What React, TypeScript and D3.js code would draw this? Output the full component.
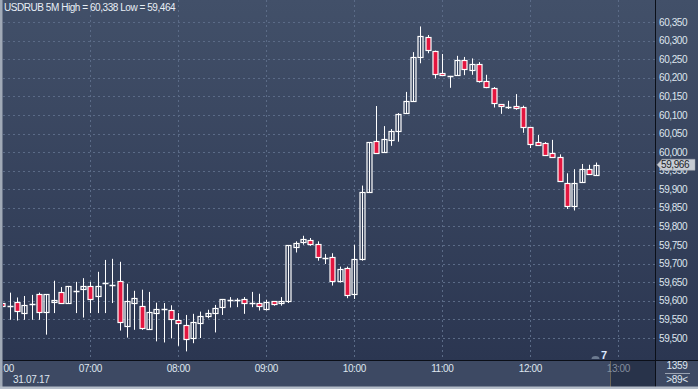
import React from 'react'
import * as d3 from 'd3'

// USDRUB 5M candles, 31.07.17 starting 06:00
const startTime = new Date(2017, 6, 31, 6, 0)
const opens = [
  59.595, 59.586, 59.597, 59.567, 59.592, 59.619, 59.569, 59.597, 59.623, 59.595,
  59.626, 59.633, 59.640, 59.612, 59.647, 59.642, 59.653, 59.534, 59.594, 59.586,
  59.525, 59.567, 59.577, 59.575, 59.549, 59.535, 59.499, 59.539, 59.558, 59.566,
  59.583, 59.601, 59.601, 59.605, 59.595, 59.594, 59.579, 59.599, 59.594, 59.599,
  59.744, 59.757, 59.763, 59.753, 59.716, 59.717, 59.654, 59.688, 59.618, 59.712,
  59.892, 60.029, 60.000, 60.032, 60.056, 60.105, 60.137, 60.255, 60.309, 60.273,
  60.213, 60.205, 60.207, 60.247, 60.219, 60.236, 60.191, 60.172, 60.129, 60.122,
  60.124, 60.121, 60.067, 60.027, 60.024, 59.997, 59.986, 59.918, 59.855, 59.919,
  59.954, 59.938,
]
const highs = [
  59.597, 59.622, 59.609, 59.613, 59.616, 59.622, 59.618, 59.654, 59.637, 59.640,
  59.651, 59.661, 59.651, 59.678, 59.710, 59.713, 59.705, 59.646, 59.627, 59.630,
  59.624, 59.595, 59.594, 59.588, 59.567, 59.562, 59.565, 59.571, 59.576, 59.589,
  59.605, 59.610, 59.607, 59.610, 59.624, 59.619, 59.603, 59.599, 59.610, 59.750,
  59.760, 59.775, 59.769, 59.760, 59.726, 59.728, 59.692, 59.692, 59.751, 59.910,
  60.027, 60.124, 60.070, 60.062, 60.105, 60.162, 60.269, 60.338, 60.315, 60.273,
  60.264, 60.205, 60.259, 60.256, 60.252, 60.242, 60.208, 60.175, 60.129, 60.138,
  60.156, 60.125, 60.067, 60.046, 60.027, 60.033, 59.994, 59.943, 59.954, 59.968,
  59.966, 59.972,
]
const lows = [
  59.585, 59.549, 59.547, 59.549, 59.549, 59.549, 59.509, 59.567, 59.594, 59.592,
  59.567, 59.555, 59.567, 59.567, 59.567, 59.594, 59.520, 59.501, 59.522, 59.522,
  59.522, 59.491, 59.488, 59.499, 59.479, 59.464, 59.486, 59.500, 59.553, 59.515,
  59.562, 59.582, 59.583, 59.565, 59.583, 59.574, 59.574, 59.587, 59.587, 59.594,
  59.730, 59.751, 59.748, 59.708, 59.699, 59.641, 59.649, 59.607, 59.605, 59.708,
  59.892, 59.997, 60.000, 60.017, 60.028, 60.105, 60.137, 60.239, 60.266, 60.198,
  60.207, 60.173, 60.207, 60.207, 60.208, 60.187, 60.172, 60.120, 60.103, 60.116,
  60.114, 60.052, 60.011, 60.019, 59.990, 59.986, 59.922, 59.847, 59.843, 59.919,
  59.941, 59.938,
]
const closes = [
  59.587, 59.586, 59.572, 59.589, 59.592, 59.571, 59.618, 59.603, 59.594, 59.640,
  59.626, 59.640, 59.606, 59.640, 59.647, 59.642, 59.543, 59.600, 59.607, 59.528,
  59.570, 59.578, 59.577, 59.550, 59.542, 59.497, 59.543, 59.559, 59.567, 59.580,
  59.605, 59.601, 59.601, 59.593, 59.595, 59.585, 59.597, 59.591, 59.600, 59.750,
  59.756, 59.766, 59.751, 59.717, 59.716, 59.653, 59.685, 59.615, 59.712, 59.892,
  60.027, 59.997, 60.035, 60.056, 60.102, 60.137, 60.255, 60.312, 60.273, 60.212,
  60.207, 60.205, 60.247, 60.223, 60.236, 60.190, 60.174, 60.131, 60.123, 60.122,
  60.119, 60.066, 60.021, 60.020, 59.993, 59.986, 59.922, 59.855, 59.918, 59.954,
  59.941, 59.966,
]
const priceTicks = [59.5, 59.55, 59.6, 59.65, 59.7, 59.75, 59.8, 59.85, 59.9, 59.95, 60.0, 60.05, 60.1, 60.15, 60.2, 60.25, 60.3, 60.35]
const hourTicks = [6, 7, 8, 9, 10, 11, 12, 13]
const dateLabel = '31.07.17'
const cornerTop = '1359'
const cornerBottom = '>89<'
const indicatorLabel = '7'

const W = 698
const H = 389
const plotLeft = 3
const plotRight = 655
const plotBottom = 360

const font = '"Liberation Sans", Arial, sans-serif'
const textColor = '#dfe6ef'
const red = '#e3163f'

const ru = d3.formatLocale({ decimal: ',', thousands: ' ', grouping: [3], currency: ['', ''] })
const fmt = ru.format('.3f')

const App = () => {
  const times = closes.map((_, i) => d3.timeMinute.offset(startTime, i * 5))

  const x = d3.scaleTime()
    .domain([startTime, d3.timeHour.offset(startTime, 7)])
    .range([2.3, 618.3])

  const y = d3.scaleLinear()
    .domain([59.5, 60.35])
    .range([338, 22])

  const last = closes[closes.length - 1]
  const lastY = y(last)
  const title = `USDRUB 5M High = ${fmt(d3.max(highs))} Low = ${fmt(d3.min(lows))}`

  const candles = times.map((t, i) => {
    const cx = Math.round(x(t)) + 0.5
    const o = opens[i]
    const c = closes[i]
    const up = c >= o
    const yTop = y(Math.max(o, c))
    const yBot = y(Math.min(o, c))
    const bh = yBot - yTop
    return (
      <g key={i}>
        <line x1={cx} x2={cx} y1={y(highs[i])} y2={y(lows[i])} stroke="#fff" strokeWidth={1} />
        {bh < 1.5 ? (
          <line x1={cx - 3} x2={cx + 3} y1={Math.round(yTop) + 0.5} y2={Math.round(yTop) + 0.5} stroke="#fff" strokeWidth={1.5} />
        ) : (
          <rect
            x={cx - 2.5}
            y={Math.round(yTop) + 0.5}
            width={5}
            height={Math.max(Math.round(bh), 2)}
            fill={up ? 'none' : red}
            stroke="#fff"
            strokeWidth={1.2}
          />
        )}
      </g>
    )
  })

  return (
    <svg width={W} height={H} style={{ position: 'absolute', left: 0, top: 0 }} fontFamily={font}>
      <defs>
        <linearGradient id="bg" x1="0" y1="0" x2="0" y2="1">
          <stop offset="0%" stopColor="#425069" />
          <stop offset="100%" stopColor="#2b3651" />
        </linearGradient>
        <clipPath id="plot">
          <rect x={plotLeft} y={0} width={plotRight - plotLeft} height={plotBottom} />
        </clipPath>
        <clipPath id="taxis">
          <rect x={plotLeft} y={plotBottom} width={plotRight - plotLeft} height={H - plotBottom} />
        </clipPath>
      </defs>

      <rect x={0} y={0} width={W} height={plotBottom + 1} fill="url(#bg)" />
      {/* time axis band */}
      <rect x={0} y={plotBottom + 1} width={W} height={H - plotBottom - 1} fill="#3d4963" />
      <rect x={611} y={plotBottom + 1} width={plotRight - 611} height={26} fill="#28334a" />
      <line x1={610.5} x2={610.5} y1={plotBottom + 1} y2={387} stroke="#6b6458" />

      {/* grid */}
      <g stroke="#5b6b87" strokeWidth={1} strokeDasharray="2,3" clipPath="url(#plot)">
        {priceTicks.map(p => (
          <line key={p} x1={plotLeft} x2={plotRight} y1={Math.round(y(p)) + 0.5} y2={Math.round(y(p)) + 0.5} />
        ))}
        {hourTicks.slice(1).map(h => {
          const gx = Math.round(x(d3.timeHour.offset(startTime, h - 6))) + 0.5
          return <line key={h} x1={gx} x2={gx} y1={0} y2={plotBottom} />
        })}
      </g>

      {/* title */}
      <text x={4} y={11} fontSize={10} letterSpacing={-0.45} fill="#e8eef5">{title}</text>

      <g clipPath="url(#plot)">{candles}</g>

      {/* indicator */}
      <path d="M591.5,359 A4,3 0 0 1 599.5,359 Z" fill="#6c7a90" />
      <text x={601} y={359} fontSize={11} fontWeight="bold" fill="#dce9ff">{indicatorLabel}</text>

      {/* price axis */}
      <g fontSize={10} letterSpacing={-0.4} fill={textColor}>
        {priceTicks.map(p => (
          <text key={p} x={659} y={y(p) + 3.6}>{fmt(p)}</text>
        ))}
      </g>

      {/* last price marker */}
      <path
        d={`M657,${lastY} L662,${lastY - 5.5} L695,${lastY - 5.5} L695,${lastY + 5.5} L662,${lastY + 5.5} Z`}
        fill="#c7ccd3"
        stroke="#9aa1ab"
        strokeWidth={0.5}
      />
      <text x={661} y={lastY + 3.6} fontSize={10} letterSpacing={-0.4} fill="#1a1f28">{fmt(last)}</text>

      {/* time axis labels */}
      <g fontSize={10} letterSpacing={-0.4} textAnchor="middle" clipPath="url(#taxis)">
        {hourTicks.map(h => {
          const t = d3.timeHour.offset(startTime, h - 6)
          return (
            <text key={h} x={x(t)} y={372} fill={h === 13 ? '#838d9e' : textColor}>
              {d3.timeFormat('%H:%M')(t)}
            </text>
          )
        })}
      </g>
      <text x={13} y={383} fontSize={10} letterSpacing={-0.3} fill={textColor}>{dateLabel}</text>

      {/* corner */}
      <text x={677} y={369} fontSize={10} letterSpacing={-0.3} textAnchor="middle" fill={textColor}>{cornerTop}</text>
      <line x1={665} x2={690} y1={373.5} y2={373.5} stroke="#9aa3b2" />
      <text x={677} y={383} fontSize={10} letterSpacing={-0.3} textAnchor="middle" fill={textColor}>{cornerBottom}</text>

      {/* axis lines and frame */}
      <line x1={plotLeft} x2={W} y1={plotBottom + 0.5} y2={plotBottom + 0.5} stroke="#0b0f18" />
      <line x1={plotRight + 0.5} x2={plotRight + 0.5} y1={0} y2={387} stroke="#0b0f18" />
      <rect x={0} y={0} width={2.5} height={H} fill="#a1aab7" />
      <rect x={0} y={386.5} width={W} height={2.5} fill="#b5bdc9" />
    </svg>
  )
}

export default App
